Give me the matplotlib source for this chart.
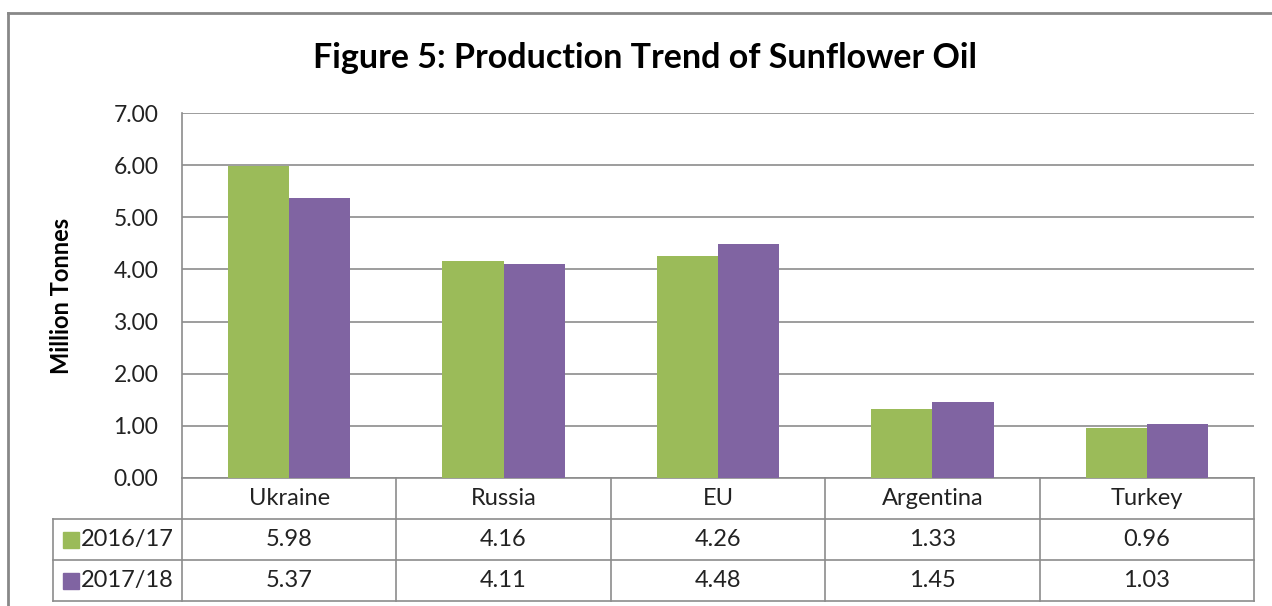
import numpy as np
import matplotlib.pyplot as plt
from matplotlib.lines import Line2D
from matplotlib.patches import Rectangle

countries = ['Ukraine', 'Russia', 'EU', 'Argentina', 'Turkey']
series_names = ['2016/17', '2017/18']
prod_1617 = [5.98, 4.16, 4.26, 1.33, 0.96]
prod_1718 = [5.37, 4.11, 4.48, 1.45, 1.03]
colors = ['#9BBB59', '#8064A2']
grid_col = '#8c8c8c'

plt.rcParams['font.family'] = ['Lato', 'DejaVu Sans']

fig = plt.figure(figsize=(12.72, 6.06), dpi=100)
ax = fig.add_axes([182 / 1272, 1 - 478 / 606, (1254 - 182) / 1272, (478 - 113) / 606])

x = np.arange(len(countries))
w = 0.285
ax.bar(x - w / 2, prod_1617, w, color=colors[0], zorder=3)
ax.bar(x + w / 2, prod_1718, w, color=colors[1], zorder=3)

ax.set_xlim(-0.5, len(countries) - 0.5)
ax.set_ylim(0, 7)
ax.set_yticks(np.arange(0, 7.01, 1))
ax.set_yticklabels(['%.2f' % v for v in np.arange(0, 7.01, 1)])
ax.yaxis.grid(True, color=grid_col, lw=1.2, zorder=0)
ax.set_xticks([])
ax.tick_params(axis='y', length=0, pad=17, labelsize=16.5, colors='#222222')
for s in ['top', 'right']:
    ax.spines[s].set_visible(False)
ax.spines['left'].set_color(grid_col)
ax.spines['bottom'].set_color(grid_col)
ax.spines['left'].set_linewidth(1.2)
ax.spines['bottom'].set_linewidth(1.2)
ax.set_ylabel('Million Tonnes', fontsize=17, fontweight='bold')
ax.yaxis.set_label_coords((73 - 182) / 1072, 0.5)

# data table under the chart
tr = ax.get_xaxis_transform()
rh = 41 / 365
left_edge = -0.5 - 129 / 214.4
n = len(countries)
kw = dict(color=grid_col, lw=1.2, transform=tr, clip_on=False)
for r in range(1, 4):
    ax.add_line(Line2D([left_edge, n - 0.5], [-rh * r, -rh * r], **kw))
for b in np.arange(-0.5, n, 1.0):
    ax.add_line(Line2D([b, b], [0, -rh * 3], **kw))
ax.add_line(Line2D([left_edge, left_edge], [-rh, -rh * 3], **kw))

fs = 17
for i, c in enumerate(countries):
    ax.text(i, -rh * 0.5, c, transform=tr, ha='center', va='center', fontsize=fs, color='#222222')
    ax.text(i, -rh * 1.5, '%.2f' % prod_1617[i], transform=tr, ha='center', va='center', fontsize=fs, color='#222222')
    ax.text(i, -rh * 2.5, '%.2f' % prod_1718[i], transform=tr, ha='center', va='center', fontsize=fs, color='#222222')

for j, name in enumerate(series_names):
    yc = -rh * (1.5 + j)
    sq = 16 / 214.4
    ax.add_patch(Rectangle((left_edge + 10 / 214.4, yc - 8 / 365), sq, 16 / 365,
                           transform=tr, clip_on=False, color=colors[j]))
    ax.text(left_edge + 28 / 214.4, yc, name, transform=tr, ha='left', va='center',
            fontsize=fs, color='#222222')

# outer chart frame (partially cropped)
fig.add_artist(Line2D([8 / 1272, 8 / 1272], [0, 1 - 13 / 606], color='#888888', lw=2, transform=fig.transFigure))
fig.add_artist(Line2D([8 / 1272, 1], [1 - 13 / 606, 1 - 13 / 606], color='#888888', lw=2, transform=fig.transFigure))

fig.text(645 / 1272, 1 - 58 / 606, 'Figure 5: Production Trend of Sunflower Oil',
         ha='center', va='center', fontsize=24.5, fontweight='bold')

fig.savefig('out.png', dpi=100)
